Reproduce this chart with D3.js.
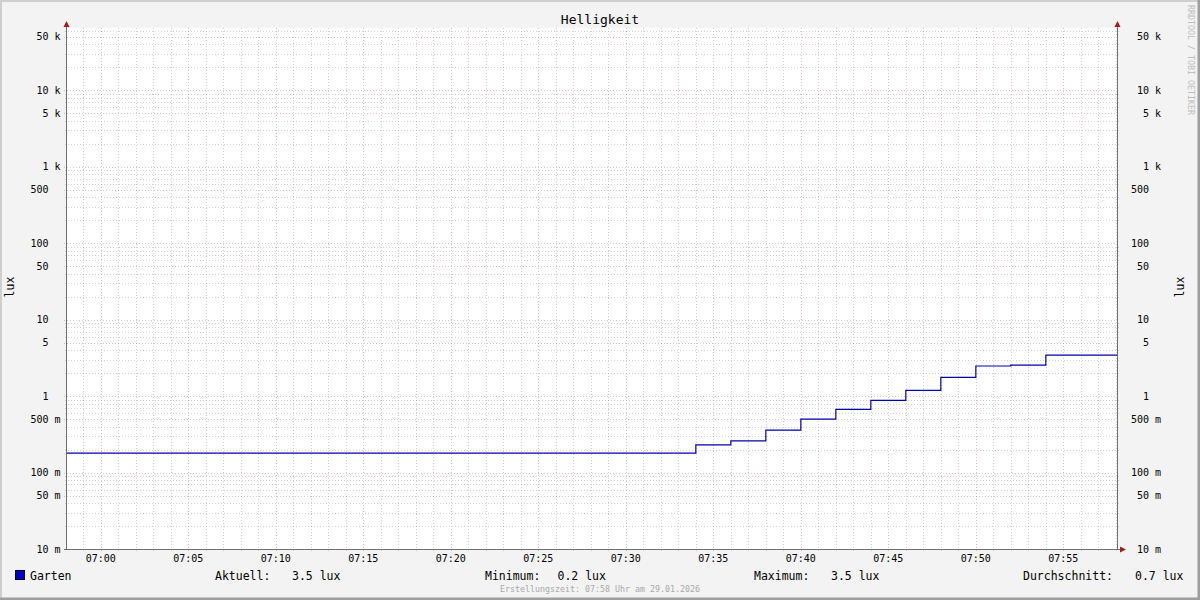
<!DOCTYPE html>
<html>
<head>
<meta charset="utf-8">
<script src="https://cdn.jsdelivr.net/npm/d3@7"></script>
<style>
  html, body { margin: 0; padding: 0; background: #f3f3f3; }
  svg text { font-family: "DejaVu Sans Mono", monospace; white-space: pre; }
</style>
</head>
<body>
<svg id="chart" width="1200" height="600"></svg>
<script>
// ---- data ----
const title = "Helligkeit";
const yAxisTitle = "lux";
const seriesName = "Garten";
const times = ["06:58","07:00","07:02","07:04","07:06","07:08","07:10","07:12","07:14","07:16",
               "07:18","07:20","07:22","07:24","07:26","07:28","07:30","07:32","07:34","07:36",
               "07:38","07:40","07:42","07:44","07:46","07:48","07:50","07:52","07:54","07:56"];
const lux = [0.18,0.18,0.18,0.18,0.18,0.18,0.18,0.18,0.18,0.18,
             0.18,0.18,0.18,0.18,0.18,0.18,0.18,0.18,0.23,0.26,
             0.36,0.50,0.67,0.88,1.19,1.76,2.48,2.55,3.45,3.45];
const xStart = "06:58:04", xEnd = "07:58:04";
const yTickValues = [0.01,0.05,0.1,0.5,1,5,10,50,100,500,1000,5000,10000,50000];
const yMin = 0.01, yMax = 65535;
const legendLabels = ["Aktuell:", "Minimum:", "Maximum:", "Durchschnitt:"];
const legendValues = ["3.5 lux", "0.2 lux", "3.5 lux", "0.7 lux"];
const footer = "Erstellungszeit: 07:58 Uhr am 29.01.2026";
const watermark = "RRDTOOL / TOBI OETIKER";

// ---- layout ----
const W = 1200, H = 600;
const L = 67, R = 1117, T = 28, B = 549;
const svg = d3.select("#chart");
const pt = d3.timeParse("%H:%M");
const pts = d3.timeParse("%H:%M:%S");

const x = d3.scaleTime().domain([pts(xStart), pts(xEnd)]).range([L, R]);
const y = d3.scaleLog().domain([yMin, yMax]).range([B, T]);

// background + shading border
svg.append("rect").attr("x",0).attr("y",0).attr("width",W).attr("height",H).attr("fill","#f3f3f3");
svg.append("path").attr("d",`M0,${H} L0,0 L${W},0`).attr("fill","none").attr("stroke","#cfcfcf").attr("stroke-width",4);
svg.append("path").attr("d",`M0,${H} L${W},${H} L${W},0`).attr("fill","none").attr("stroke","#9e9e9e").attr("stroke-width",5);

// canvas
svg.append("rect").attr("x",L).attr("y",T).attr("width",R-L).attr("height",B-T).attr("fill","#ffffff");

const grid = svg.append("g");
const minorColor = "rgba(150,150,150,0.42)";
const majorColor = "rgba(190,120,120,0.45)";

// minor vertical (every minute)
const minorX = x.ticks(d3.timeMinute.every(1));
const majorX = x.ticks(d3.timeMinute.every(5));
const majorXSet = new Set(majorX.map(d => +d));
grid.selectAll(".vmin").data(minorX.filter(d => !majorXSet.has(+d))).join("line")
  .attr("x1", d => Math.round(x(d)) + 0.5).attr("x2", d => Math.round(x(d)) + 0.5)
  .attr("y1", T).attr("y2", B + 2)
  .attr("stroke", minorColor).attr("stroke-dasharray", "1,2");
// minor horizontal (log 1..9)
const yMajorSet = new Set(yTickValues.map(v => v.toPrecision(6)));
const minorY = y.ticks().filter(v => !yMajorSet.has(v.toPrecision(6)));
grid.selectAll(".hmin").data(minorY).join("line")
  .attr("x1", L - 2).attr("x2", R + 2)
  .attr("y1", d => Math.round(y(d)) + 0.5).attr("y2", d => Math.round(y(d)) + 0.5)
  .attr("stroke", minorColor).attr("stroke-dasharray", "1,2");
// major vertical
grid.selectAll(".vmaj").data(majorX).join("line")
  .attr("x1", d => Math.round(x(d)) + 0.5).attr("x2", d => Math.round(x(d)) + 0.5)
  .attr("y1", T).attr("y2", B + 3)
  .attr("stroke", majorColor).attr("stroke-dasharray", "1,2");
// major horizontal
grid.selectAll(".hmaj").data(yTickValues).join("line")
  .attr("x1", L - 3).attr("x2", R + 3)
  .attr("y1", d => Math.round(y(d)) + 0.5).attr("y2", d => Math.round(y(d)) + 0.5)
  .attr("stroke", majorColor).attr("stroke-dasharray", "1,2");

// data line
svg.append("clipPath").attr("id","clip").append("rect").attr("x",L).attr("y",T).attr("width",R-L).attr("height",B-T);
const data = times.map((t, i) => ({ t: pt(t), v: lux[i] }));
data.push({ t: x.domain()[1], v: lux[lux.length - 1] });
const line = d3.line().x(d => x(d.t)).y(d => y(d.v)).curve(d3.curveStepAfter);
svg.append("path").datum(data)
  .attr("d", line).attr("fill", "none").attr("stroke", "#0000b0").attr("stroke-width", 1.2)
  .attr("clip-path", "url(#clip)");

// axes lines
const axisColor = "#707070";
svg.append("line").attr("x1", L - 0.5).attr("x2", L - 0.5).attr("y1", B + 1).attr("y2", T - 2).attr("stroke", axisColor);
svg.append("line").attr("x1", R + 0.5).attr("x2", R + 0.5).attr("y1", B + 1).attr("y2", T - 2).attr("stroke", axisColor);
svg.append("line").attr("x1", L - 3).attr("x2", R + 4).attr("y1", B + 0.5).attr("y2", B + 0.5).attr("stroke", axisColor);

// arrows
const arrowColor = "#a01e1e";
svg.append("path").attr("d", `M${L-3.5},${T-1} L${L-0.5},${T-7} L${L+2.5},${T-1} Z`).attr("fill", arrowColor);
svg.append("path").attr("d", `M${R-2.5},${T-1} L${R+0.5},${T-7} L${R+3.5},${T-1} Z`).attr("fill", arrowColor);
svg.append("path").attr("d", `M${R+3},${B-2.5} L${R+9},${B+0.5} L${R+3},${B+3.5} Z`).attr("fill", arrowColor);

// y labels
function fmt(v) {
  if (v >= 1000) return (v / 1000) + " k";
  if (v >= 1) return v + "  ";
  return Math.round(v * 1000) + " m";
}
const ylab = svg.append("g").attr("font-size", 10).attr("fill", "#000");
ylab.selectAll(".yl").data(yTickValues).join("text")
  .attr("xml:space", "preserve")
  .attr("x", 60.5).attr("y", d => y(d) + 3.5).attr("text-anchor", "end").text(fmt);
ylab.selectAll(".yr").data(yTickValues).join("text")
  .attr("xml:space", "preserve")
  .attr("x", 1161).attr("y", d => y(d) + 3.5).attr("text-anchor", "end").text(fmt);

// x labels
const tf = d3.timeFormat("%H:%M");
svg.append("g").attr("font-size", 10).selectAll("text").data(majorX).join("text")
  .attr("x", d => x(d)).attr("y", 562).attr("text-anchor", "middle").text(tf);

// title
svg.append("text").attr("x", 600).attr("y", 24).attr("text-anchor", "middle")
  .attr("font-size", 13).text(title);

// axis titles
svg.append("text").attr("transform", "translate(14,287) rotate(-90)").attr("text-anchor", "middle")
  .attr("font-size", 11.5).text(yAxisTitle);
svg.append("text").attr("transform", "translate(1184,287) rotate(-90)").attr("text-anchor", "middle")
  .attr("font-size", 11.5).text(yAxisTitle);

// watermark
svg.append("text").attr("transform", "translate(1188,5) rotate(90)").attr("text-anchor", "start")
  .attr("font-size", 8.3).attr("fill", "#bdbdbd").text(watermark);

// legend
svg.append("rect").attr("x", 15.5).attr("y", 570.5).attr("width", 9).attr("height", 9)
  .attr("fill", "#0000c8").attr("stroke", "#000");
const lg = svg.append("g").attr("font-size", 11.5).attr("fill", "#000");
lg.append("text").attr("x", 30).attr("y", 579.5).text(seriesName);
const labelX = [215, 485, 754, 1023];
const valueX = [292, 557.5, 831, 1135];
lg.selectAll(".ll").data(legendLabels).join("text")
  .attr("x", (d, i) => labelX[i]).attr("y", 579.5).text(d => d);
lg.selectAll(".lv").data(legendValues).join("text")
  .attr("x", (d, i) => valueX[i]).attr("y", 579.5).text(d => d);

// footer
svg.append("text").attr("x", 600).attr("y", 592).attr("text-anchor", "middle")
  .attr("font-size", 8.3).attr("fill", "#a8a8a8").text(footer);
</script>
</body>
</html>
